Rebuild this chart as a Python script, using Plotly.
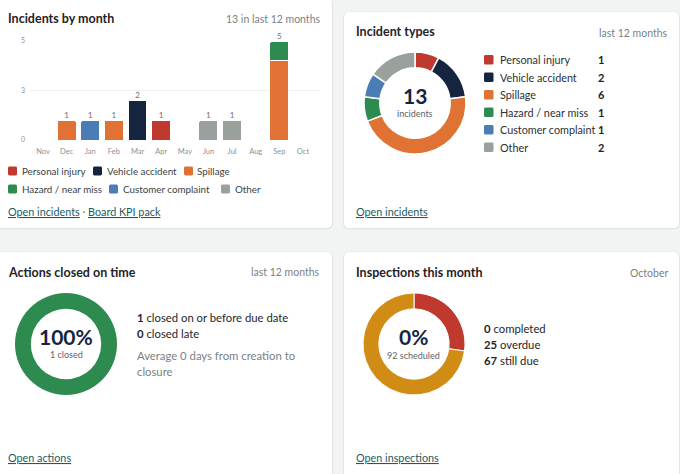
import plotly.graph_objects as go

# ---------------- data ----------------
months = ["Nov", "Dec", "Jan", "Feb", "Mar", "Apr", "May", "Jun", "Jul", "Aug", "Sep", "Oct"]
incident_types = ["Personal injury", "Vehicle accident", "Spillage",
                  "Hazard / near miss", "Customer complaint", "Other"]
type_colors = ["#c0392f", "#15253f", "#e07334", "#2e8b4f", "#4a7db5", "#9aa19c"]

personal_injury    = [0, 0, 0, 0, 0, 1, 0, 0, 0, 0, 0, 0]
vehicle_accident   = [0, 0, 0, 0, 2, 0, 0, 0, 0, 0, 0, 0]
spillage           = [0, 1, 0, 1, 0, 0, 0, 0, 0, 0, 4, 0]
hazard_near_miss   = [0, 0, 0, 0, 0, 0, 0, 0, 0, 0, 1, 0]
customer_complaint = [0, 0, 1, 0, 0, 0, 0, 0, 0, 0, 0, 0]
other              = [0, 0, 0, 0, 0, 0, 0, 1, 1, 0, 0, 0]
monthly_series = [personal_injury, vehicle_accident, spillage,
                  hazard_near_miss, customer_complaint, other]

y_tickvals = [0, 2.5, 5]
y_ticktext = ["0", "3", "5"]

actions_labels = ["Closed on time", "Closed late"]
actions_values = [1, 0]
actions_colors = ["#2e8b4f", "#c0392f"]
avg_days_to_close = 0

insp_labels = ["Completed", "Overdue", "Still due"]
insp_values = [0, 25, 67]
insp_colors = ["#2e8b4f", "#c0392f", "#d08c14"]
insp_month = "October"

# ---------------- helpers ----------------
W, H = 680, 474
FONT = "Lato, 'Open Sans', sans-serif"
DARK = "#1f2328"
GRAY = "#7a7f84"
LINK = "#1a5c63"


def px(x):
    return x / W


def py(y):
    return 1 - y / H


def rrect_path(x0, y0, x1, y1, r):
    pts = [
        ("M", [(x0 + r, y0)]),
        ("L", [(x1 - r, y0)]),
        ("Q", [(x1, y0), (x1, y0 + r)]),
        ("L", [(x1, y1 - r)]),
        ("Q", [(x1, y1), (x1 - r, y1)]),
        ("L", [(x0 + r, y1)]),
        ("Q", [(x0, y1), (x0, y1 - r)]),
        ("L", [(x0, y0 + r)]),
        ("Q", [(x0, y0), (x0 + r, y0)]),
    ]
    s = ""
    for cmd, ps in pts:
        s += cmd + " " + " ".join(f"{px(a):.5f},{py(b):.5f}" for a, b in ps) + " "
    return s + "Z"


shapes = []
annotations = []


def card(x0, y0, x1, y1):
    shapes.append(dict(type="path", path=rrect_path(x0 - 1, y0 - 0.5, x1 + 1, y1 + 1.5, 7),
                       xref="paper", yref="paper", fillcolor="#e3e5e5",
                       line=dict(width=0), layer="below"))
    shapes.append(dict(type="path", path=rrect_path(x0, y0, x1, y1, 6),
                       xref="paper", yref="paper", fillcolor="#ffffff",
                       line=dict(width=0), layer="below"))


def text(x, y, s, size=11, color=DARK, anchor="left", bold=False):
    if bold:
        s = f"<b>{s}</b>"
    annotations.append(dict(x=px(x), y=py(y), xref="paper", yref="paper", text=s,
                            showarrow=False, xanchor=anchor, yanchor="middle",
                            borderpad=0, font=dict(family=FONT, size=size, color=color)))


def swatch(x, y, color, s=9):
    shapes.append(dict(type="path", path=rrect_path(x, y - s / 2, x + s, y + s / 2, 1.5),
                       xref="paper", yref="paper", fillcolor=color,
                       line=dict(width=0), layer="above"))


# cards
card(-4, -2, 332, 228)
card(344, 12, 679, 228)
card(-4, 252, 332, 480)
card(344, 252, 679, 480)

fig = go.Figure()

# ---------------- card 1: incidents by month ----------------
for name, vals, col in zip(incident_types, monthly_series, type_colors):
    fig.add_trace(go.Bar(
        x=months, y=[v if v else None for v in vals], name=name,
        marker=dict(color=col, line=dict(color="#ffffff", width=1)),
        width=0.8, xaxis="x", yaxis="y", hoverinfo="skip"))

totals = [sum(s[i] for s in monthly_series) for i in range(len(months))]
fig.add_trace(go.Scatter(
    x=[m for m, t in zip(months, totals) if t > 0],
    y=[t for t in totals if t > 0],
    text=[str(t) for t in totals if t > 0],
    mode="text", textposition="top center",
    textfont=dict(family=FONT, size=8, color="#6b7075"),
    cliponaxis=False, xaxis="x", yaxis="y", hoverinfo="skip"))

text(7, 19, "Incidents by month", size=12.5, bold=True)
text(321, 19, f"{sum(totals)} in last 12 months", size=10.5, color=GRAY, anchor="right")

legend1_pos = [(8, 171), (93, 171), (184, 171), (8, 189), (109, 189), (221, 189)]
for (lx, ly), name, col in zip(legend1_pos, incident_types, type_colors):
    swatch(lx, ly, col)
    text(lx + 12.5, ly, name, size=9.8, color="#3a3f44")

text(7, 211, f"<u>Open incidents</u><span style='color:{GRAY}'> · </span><u>Board KPI pack</u>",
     size=10.8, color=LINK)

# ---------------- card 2: incident types ----------------
type_totals = [sum(s) for s in monthly_series]
fig.add_trace(go.Pie(
    labels=incident_types, values=type_totals, hole=0.69, sort=False,
    direction="clockwise", rotation=0,
    marker=dict(colors=type_colors, line=dict(color="#ffffff", width=1.5)),
    textinfo="none", hoverinfo="skip",
    domain=dict(x=[px(364), px(466)], y=[py(154), py(52)])))
text(355, 32, "Incident types", size=12.5, bold=True)
text(669, 33, "last 12 months", size=10.5, color=GRAY, anchor="right")
text(415, 96, str(sum(type_totals)), size=21, color="#15253f", anchor="center", bold=True)
text(415, 114, "incidents", size=9, color="#5d6267", anchor="center")
for i, (name, val, col) in enumerate(zip(incident_types, type_totals, type_colors)):
    ly = 59.7 + i * 17.5
    swatch(484, ly, col, s=9.5)
    text(498.5, ly, name, size=10.8, color="#2b3035")
    text(596.5, ly, str(val), size=11, color="#1f2328", bold=True)
text(355, 211, "<u>Open incidents</u>", size=10.8, color=LINK)

# ---------------- card 3: actions closed on time ----------------
fig.add_trace(go.Pie(
    labels=actions_labels, values=actions_values, hole=0.69, sort=False,
    direction="clockwise", rotation=0,
    marker=dict(colors=actions_colors, line=dict(color="#ffffff", width=0)),
    textinfo="none", hoverinfo="skip",
    domain=dict(x=[px(15), px(117)], y=[py(395), py(293)])))
closed_total = sum(actions_values)
pct = round(100 * actions_values[0] / closed_total) if closed_total else 0
text(7, 272, "Actions closed on time", size=12.5, bold=True)
text(321, 272, "last 12 months", size=10.5, color=GRAY, anchor="right")
text(66, 336, f"{pct}%", size=21, color="#15253f", anchor="center", bold=True)
text(66, 354, f"{closed_total} closed", size=9, color="#5d6267", anchor="center")
text(136, 317, f"<b>{actions_values[0]}</b> closed on or before due date", size=11.3, color="#23272b")
text(136, 333, f"<b>{actions_values[1]}</b> closed late", size=11.3, color="#23272b")
text(136, 355, f"Average {avg_days_to_close} days from creation to", size=11.3, color=GRAY)
text(136, 371, "closure", size=11.3, color=GRAY)
text(7, 457, "<u>Open actions</u>", size=10.8, color=LINK)

# ---------------- card 4: inspections this month ----------------
fig.add_trace(go.Pie(
    labels=insp_labels, values=insp_values, hole=0.69, sort=False,
    direction="clockwise", rotation=0,
    marker=dict(colors=insp_colors, line=dict(color="#ffffff", width=1)),
    textinfo="none", hoverinfo="skip",
    domain=dict(x=[px(363), px(465)], y=[py(395), py(293)])))
insp_total = sum(insp_values)
insp_pct = round(100 * insp_values[0] / insp_total) if insp_total else 0
text(355, 272, "Inspections this month", size=12.5, bold=True)
text(669, 273, insp_month, size=10.5, color=GRAY, anchor="right")
text(414, 336, f"{insp_pct}%", size=21, color="#15253f", anchor="center", bold=True)
text(414, 355, f"{insp_total} scheduled", size=9, color="#5d6267", anchor="center")
text(483, 328, f"<b>{insp_values[0]}</b> completed", size=11.3, color="#23272b")
text(483, 344, f"<b>{insp_values[1]}</b> overdue", size=11.3, color="#23272b")
text(483, 360, f"<b>{insp_values[2]}</b> still due", size=11.3, color="#23272b")
text(355, 457, "<u>Open inspections</u>", size=10.8, color=LINK)

# ---------------- layout ----------------
fig.update_layout(
    template="none",
    width=W, height=H, autosize=False,
    margin=dict(l=0, r=0, t=0, b=0, pad=0, autoexpand=False),
    paper_bgcolor="#f2f3f3", plot_bgcolor="rgba(0,0,0,0)",
    showlegend=False, barmode="stack", barcornerradius=2,
    font=dict(family=FONT),
    shapes=shapes, annotations=annotations,
    xaxis=dict(domain=[px(30), px(320)], type="category", range=[-0.55, 11.72],
               showgrid=False, zeroline=False, showline=False, ticks="",
               automargin=False, ticklabelstandoff=5,
               tickfont=dict(family=FONT, size=7.5, color="#8c9196"),
               fixedrange=True, anchor="y"),
    yaxis=dict(domain=[py(140), py(41)], range=[0, 5],
               tickvals=y_tickvals, ticktext=y_ticktext,
               showgrid=True, gridcolor="#efefef", gridwidth=1,
               zeroline=False, showline=False, ticks="", ticklabelstandoff=4,
               automargin=False,
               tickfont=dict(family=FONT, size=7, color="#8c9196"),
               fixedrange=True, anchor="x"),
)

fig.write_html("out.html", config=dict(displayModeBar=False))
